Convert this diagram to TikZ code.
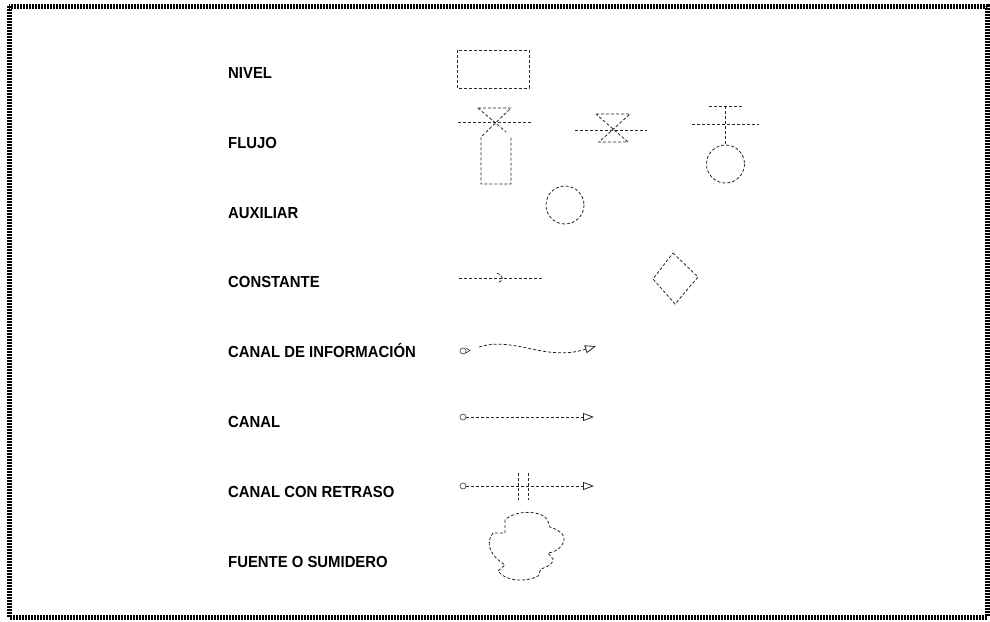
\documentclass[tikz,border=0pt]{standalone}
\usepackage{fontspec}
\newfontfamily\lblfont[FakeStretch=0.93]{Liberation Sans}
\usetikzlibrary{arrows.meta,shapes.geometric}
\begin{document}
\begin{tikzpicture}[x=1pt,y=-1pt,
  dsh/.style={draw=black!85, line width=0.8pt, dash pattern=on 3pt off 2pt},
  lbl/.style={anchor=base west, inner sep=0pt, font=\lblfont\bfseries\fontsize{16}{19}\selectfont},
  dotc/.style={circle, draw=black!80, line width=0.6pt, inner sep=0pt, minimum size=6pt},
  tip/.style={-{Triangle[open,length=11pt,width=8pt,line width=0.8pt]}}
]
\useasboundingbox (0,0) rectangle (990,621);
\fill[white] (0,0) rectangle (990,621);
\draw[line width=5pt, dash pattern=on 1.6pt off 1.4pt] (9,6) rectangle (987,617);
% labels
\node[lbl] (lNivel) at (228,78) {NIVEL};
\node[lbl] (lFlujo) at (228,148) {FLUJO};
\node[lbl] (lAux) at (228,218) {AUXILIAR};
\node[lbl] (lConst) at (228,287.5) {CONSTANTE};
\node[lbl] (lInfo) at (228,357.5) {CANAL DE INFORMACIÓN};
\node[lbl] (lCanal) at (228,427) {CANAL};
\node[lbl] (lRetr) at (228,497) {CANAL CON RETRASO};
\node[lbl] (lFuente) at (228,567) {FUENTE O SUMIDERO};
% nivel
\draw[dsh] (457,50) rectangle (529,88);
% flujo 1
\draw[dsh] (458,122) -- (532,122);
\draw[dsh] (478,108) -- (511,108) -- (481,137) -- (481,184) -- (511,184) -- (511,137);
\draw[dsh] (478,108) -- (506,132);
% flujo 2
\draw[dsh] (575,130) -- (647,130);
\draw[dsh] (596,114) -- (630,114) -- (599,142) -- (628,142) -- cycle;
% flujo 3
\draw[dsh] (709,106) -- (742,106);
\draw[dsh] (692,124) -- (759,124);
\draw[dsh] (725.5,106) -- (725.5,145);
\draw[dsh] (725.5,164) circle[radius=19];
% auxiliar
\draw[dsh] (565,205) circle[radius=19];
% constante
\draw[dsh] (459,278) -- (542,278);
\draw[dsh] (497,273.5) .. controls (504,274) and (504,282) .. (497,282.5);
\draw[dsh] (673,253) -- (698,277) -- (675,304) -- (653,279) -- cycle;
% canal de informacion
\node[dotc] (c1) at (463,351) {};
\draw[black!80, line width=0.6pt] (466,348) -- (470,350.5) -- (466,353);
\coordinate (c1s) at (479,347);
\coordinate (c1e) at (596,346);
\draw[dsh,tip] (c1s) .. controls (515,336) and (545,362) .. (c1e);
% canal
\node[dotc] (c2) at (463,417) {};
\coordinate (c2e) at (594,417);
\draw[dsh,tip] (c2.east) -- (c2e);
% canal con retraso
\node[dotc] (c3) at (463,486) {};
\coordinate (c3e) at (594,486);
\draw[dsh,tip] (c3.east) -- (c3e);
\draw[dsh] (518,473) -- (518,500);
\draw[dsh] (528,473) -- (528,500);
% fuente o sumidero
\draw[dsh] (505,520) -- (505,533) -- (493,533) .. controls (486,542) and (488,554) .. (505,565)
  -- (498,571) .. controls (505,581) and (525,583) .. (538,576) -- (541,569)
  .. controls (550,566) and (554,562) .. (553,559) -- (548,553)
  .. controls (557,552) and (565,545) .. (564,537) .. controls (562,531) and (553,528) .. (550,527)
  -- (547,519) .. controls (540,510) and (515,510) .. (505,520);
\end{tikzpicture}
\end{document}
